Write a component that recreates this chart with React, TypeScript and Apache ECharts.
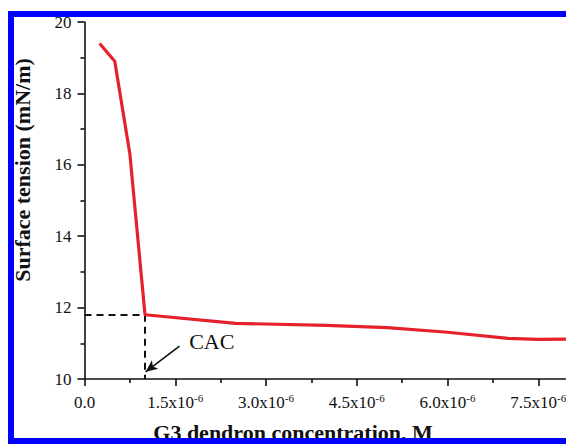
import React, { useEffect, useRef } from "react";
import * as echarts from "echarts";

const concentration = [0.25e-6, 0.5e-6, 0.75e-6, 1.0e-6, 2.5e-6, 4.0e-6, 5.0e-6, 6.0e-6, 7.0e-6, 7.5e-6, 8.0e-6, 8.5e-6];
const tension = [19.4, 18.9, 16.3, 11.8, 11.56, 11.5, 11.44, 11.31, 11.14, 11.11, 11.12, 11.12];
const cac = { x: 1.0e-6, y: 11.8 };
const arrowFrom = [1.57e-6, 10.92];
const arrowTo = [1.01e-6, 10.2];
const cacLabelPos = [1.73e-6, 11.04];
const yTitle = "Surface tension (mN/m)";
const xTitle = "G3 dendron concentration, M";

const SERIF = "Times New Roman";
const INK = "#111111";

export default function App() {
  const ref = useRef<HTMLDivElement>(null);
  useEffect(() => {
    document.body.style.margin = "0";
    const chart = echarts.init(ref.current!, undefined, { renderer: "svg" });
    const data = concentration.map((c, i) => [c, tension[i]]);
    chart.setOption({
      animation: false,
      backgroundColor: "#ffffff",
      textStyle: { fontFamily: SERIF },
      grid: { left: 84.5, top: 22, bottom: 65, right: 26.5, containLabel: false },
      xAxis: {
        type: "value",
        min: 0,
        max: 9e-6,
        interval: 1.5e-6,
        splitLine: { show: false },
        axisLine: { lineStyle: { color: INK, width: 1.6 } },
        axisTick: { show: true, inside: false, length: 7, lineStyle: { color: INK, width: 1.6 } },
        minorTick: { show: true, splitNumber: 2, length: 4, lineStyle: { color: INK, width: 1.6 } },
        axisLabel: {
          margin: 13,
          color: INK,
          fontFamily: SERIF,
          fontSize: 17,
          formatter: (v: number) => {
            if (Math.abs(v) < 1e-12) return "{m|0.0}";
            return "{m|" + (v * 1e6).toFixed(1) + "x10}{s|-6}";
          },
          rich: {
            m: { fontSize: 17, fontFamily: SERIF, fontWeight: "normal", color: INK, lineHeight: 20 },
            s: { fontSize: 11, fontFamily: SERIF, fontWeight: "normal", color: INK, verticalAlign: "top", lineHeight: 10 },
          },
        },
      },
      yAxis: {
        type: "value",
        min: 10,
        max: 20,
        interval: 2,
        splitLine: { show: false },
        axisLine: { show: true, lineStyle: { color: INK, width: 1.6 } },
        axisTick: { show: true, inside: false, length: 7, lineStyle: { color: INK, width: 1.6 } },
        minorTick: { show: true, splitNumber: 2, length: 4, lineStyle: { color: INK, width: 1.6 } },
        axisLabel: { margin: 13, fontSize: 17, color: INK, fontFamily: SERIF, fontWeight: "normal" },
      },
      series: [
        {
          type: "line",
          data,
          symbol: "none",
          lineStyle: { color: "#e5222b", width: 3.2 },
          z: 3,
          markLine: {
            silent: true,
            symbol: "none",
            z: 2,
            label: { show: false },
            lineStyle: { color: INK, type: [7, 5], width: 2 },
            data: [
              [{ coord: [0, cac.y] }, { coord: [cac.x, cac.y] }],
              [{ coord: [cac.x, cac.y] }, { coord: [cac.x, 10] }],
              [
                { coord: arrowFrom, symbol: "none", lineStyle: { type: "solid", width: 1.6 } },
                { coord: arrowTo, symbol: "arrow", symbolSize: [8, 12] },
              ],
            ],
          },
          markPoint: {
            silent: true,
            symbol: "circle",
            symbolSize: 0,
            data: [
              {
                coord: cacLabelPos,
                label: {
                  show: true,
                  position: "right",
                  distance: 0,
                  formatter: "CAC",
                  fontFamily: SERIF,
                  fontWeight: "normal",
                  fontSize: 22,
                  color: INK,
                },
              },
            ],
          },
        },
      ],
      graphic: [
        {
          type: "text",
          x: 22,
          y: 170,
          rotation: Math.PI / 2,
          style: {
            text: yTitle,
            font: "bold 22px Liberation Serif",
            fill: INK,
            align: "center",
            verticalAlign: "middle",
          },
          z: 10,
        },
        {
          type: "text",
          x: 293,
          y: 432,
          style: {
            text: xTitle,
            font: "bold 22px Liberation Serif",
            fill: INK,
            align: "center",
            verticalAlign: "middle",
          },
          z: 10,
        },
        {
          type: "rect",
          shape: { x: 11, y: 14, width: 700, height: 427 },
          style: { fill: "none", stroke: "#0000ff", lineWidth: 6 },
          z: 20,
        },
      ],
    });
    return () => chart.dispose();
  }, []);
  return (
    <div style={{ position: "absolute", left: 0, top: 0, width: 566, height: 444, overflow: "hidden" }}>
      <div ref={ref} style={{ width: 660, height: 444 }} />
    </div>
  );
}
